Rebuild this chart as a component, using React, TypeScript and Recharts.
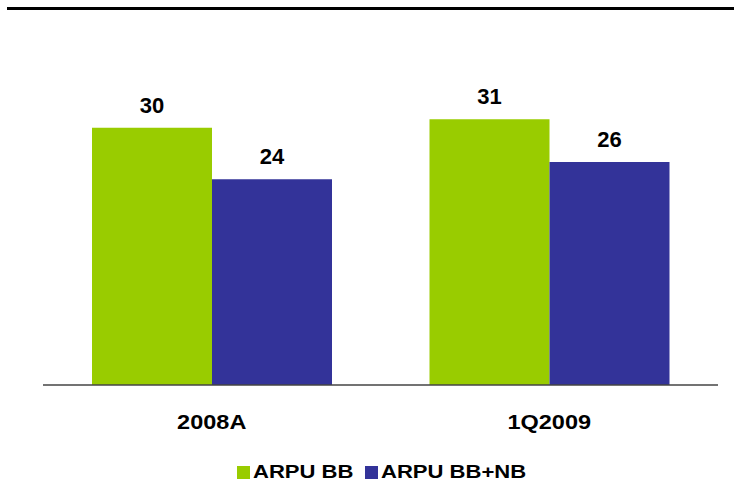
import { BarChart, Bar, XAxis, YAxis, LabelList, Legend } from 'recharts'

const periods = ['2008A', '1Q2009']
const arpuBB = [30, 31]
const arpuBBNB = [24, 26]

const seriesNames = ['ARPU BB', 'ARPU BB+NB']
const seriesColors = ['#99cc00', '#333399']

const data = periods.map((p, i) => ({ period: p, bb: arpuBB[i], bbnb: arpuBBNB[i] }))

const font = '"Liberation Sans", Arial, sans-serif'

// bold labels in the deck are a bit wider than Arial, so stretch them slightly
function PeriodTick(props: any) {
  const { x, y, payload } = props
  return (
    <text
      x={x}
      y={y + 44}
      textAnchor="middle"
      fill="#000"
      fontFamily={font}
      fontWeight={700}
      fontSize={21}
      transform={`translate(${x} 0) scale(1.12 1) translate(${-x} 0)`}
    >
      {payload.value}
    </text>
  )
}

function LegendBoxes() {
  return (
    <div style={{ display: 'flex', alignItems: 'center', fontFamily: font, fontWeight: 700, fontSize: 19, color: '#000', whiteSpace: 'nowrap' }}>
      {seriesNames.map((name, i) => (
        <div key={name} style={{ display: 'flex', alignItems: 'center', width: i === 0 ? 128 : 170 }}>
          <span style={{ width: 13, height: 13, background: seriesColors[i], marginRight: 3, display: 'inline-block', flex: 'none' }} />
          <span style={{ display: 'inline-block', transform: 'scaleX(1.16)', transformOrigin: 'left center' }}>{name}</span>
        </div>
      ))}
    </div>
  )
}

export default function App() {
  return (
    <div style={{ position: 'absolute', left: 0, top: 0, width: 734, height: 486, background: '#fff' }}>
      <div style={{ position: 'absolute', left: 7, top: 7, width: 727, height: 3, background: '#000' }} />
      <BarChart width={734} height={486} data={data} margin={{ top: 42, right: 16, bottom: 0, left: 43 }} barGap={0}>
        <XAxis
          dataKey="period"
          height={101}
          tickLine={false}
          tickSize={0}
          tickMargin={0}
          axisLine={{ stroke: '#444', strokeWidth: 1.5 }}
          tick={<PeriodTick />}
          interval={0}
        />
        <YAxis hide domain={[0, 40]} />
        <Legend
          layout="horizontal"
          verticalAlign="middle"
          align="center"
          content={<LegendBoxes />}
          wrapperStyle={{ left: 237, top: 461, width: 'auto' }}
        />
        <Bar dataKey="bb" name={seriesNames[0]} fill={seriesColors[0]} barSize={120} isAnimationActive={false}>
          <LabelList dataKey="bb" position="top" offset={15} style={{ fill: '#000', fontFamily: font, fontWeight: 700, fontSize: 22 }} />
        </Bar>
        <Bar dataKey="bbnb" name={seriesNames[1]} fill={seriesColors[1]} barSize={120} isAnimationActive={false}>
          <LabelList dataKey="bbnb" position="top" offset={15} style={{ fill: '#000', fontFamily: font, fontWeight: 700, fontSize: 22 }} />
        </Bar>
      </BarChart>
    </div>
  )
}
